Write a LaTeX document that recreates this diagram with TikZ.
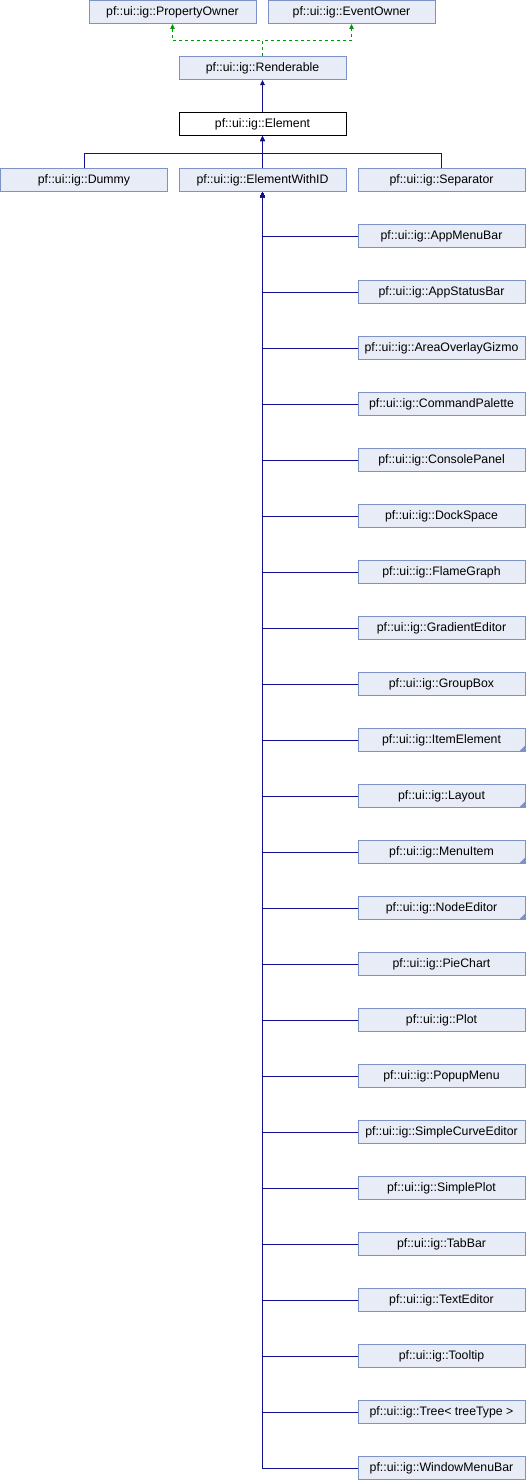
\documentclass[tikz,border=0pt]{standalone}
\usepackage{fontspec}
\setmainfont{Liberation Sans}
\usetikzlibrary{arrows.meta}
\definecolor{boxfill}{HTML}{E8ECF6}
\definecolor{boxline}{HTML}{7D92C6}
\definecolor{edgeblue}{HTML}{10108C}
\definecolor{edgegreen}{HTML}{009900}
\tikzset{
  cls/.style={draw=boxline, fill=boxfill, line width=1pt, minimum width=167pt, minimum height=23pt,
    inner sep=0pt, font=\fontsize{12.3}{14}\selectfont},
  focus/.style={cls, draw=black, fill=white},
  inh/.style={draw=edgeblue, line width=1pt, {Triangle[length=5pt,width=4.5pt]}-},
  prot/.style={draw=edgegreen, line width=0.8pt, dashed, dash pattern=on 3pt off 3pt, -{Triangle[length=5pt,width=4.5pt]}},
  corner/.style={fill=boxline}
}
\begin{document}
\begin{tikzpicture}[x=1pt,y=-1pt]
\useasboundingbox (0,0) rectangle (527,1480);
\node[cls] (po) at (172.5,12) {pf::ui::ig::PropertyOwner};
\node[cls] (eo) at (351.5,12) {pf::ui::ig::EventOwner};
\node[cls] (rend) at (262.5,68) {pf::ui::ig::Renderable};
\node[focus] (elem) at (262.5,124) {pf::ui::ig::Element};
\node[cls] (dummy) at (84,180) {pf::ui::ig::Dummy};
\node[cls] (ewid) at (262.5,180) {pf::ui::ig::ElementWithID};
\node[cls] (sep) at (441.5,180) {pf::ui::ig::Separator};
\coordinate (gj) at (262.5,40.5);
\coordinate (bj) at (262.5,153);
% right column
\foreach \i/\name/\lab in {
 0/r0/AppMenuBar, 1/r1/AppStatusBar, 2/r2/AreaOverlayGizmo, 3/r3/CommandPalette,
 4/r4/ConsolePanel, 5/r5/DockSpace, 6/r6/FlameGraph, 7/r7/GradientEditor,
 8/r8/GroupBox, 9/r9/ItemElement, 10/r10/Layout, 11/r11/MenuItem,
 12/r12/NodeEditor, 13/r13/PieChart, 14/r14/Plot, 15/r15/PopupMenu,
 16/r16/SimpleCurveEditor, 17/r17/SimplePlot, 18/r18/TabBar, 19/r19/TextEditor,
 20/r20/Tooltip, 21/r21/Tree< treeType >, 22/r22/WindowMenuBar}{
  \node[cls] (\name) at (441.5,236+56*\i) {pf::ui::ig::\lab};
  \draw[inh] (ewid.south) -- (ewid.south |- \name.west) -- (\name.west);
}
\foreach \name in {r9,r10,r11,r12}{
  \fill[corner] ([xshift=-0.5pt,yshift=0.5pt]\name.south east) -- ++(-6pt,0pt) -- ++(6pt,6pt) -- cycle;
}
\draw[prot] (rend.north) -- (gj) -| (po.south);
\draw[prot] (rend.north) -- (gj) -| (eo.south);
\draw[inh] (rend.south) -- (elem.north);
\draw[inh] (elem.south) -- (ewid.north);
\draw[inh] (elem.south) -- (bj) -| (dummy.north);
\draw[inh] (elem.south) -- (bj) -| (sep.north);
\end{tikzpicture}
\end{document}
